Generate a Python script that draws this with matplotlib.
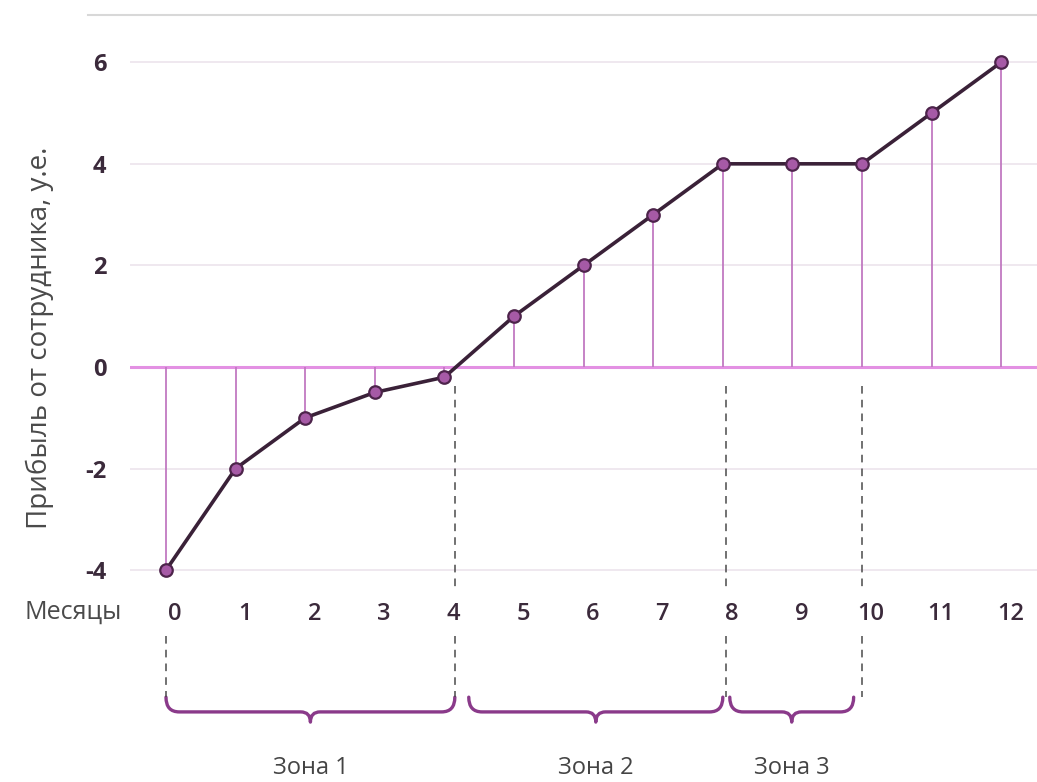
import numpy as np
import matplotlib
matplotlib.use('Agg')
import matplotlib.pyplot as plt
from matplotlib.path import Path
from matplotlib.patches import PathPatch
from matplotlib.lines import Line2D
from matplotlib.transforms import ScaledTranslation

plt.rcParams['font.family'] = ['Open Sans', 'DejaVu Sans']

# Data
months = list(range(13))
profit = [-4, -2, -1, -0.5, -0.2, 1, 2, 3, 4, 4, 4, 5, 6]
y_ticks = [-4, -2, 0, 2, 4, 6]
zone_bounds = [0, 4.15, 8.05, 10.0]
zone_names = ['Зона 1', 'Зона 2', 'Зона 3']

W, H = 1037, 782
fig = plt.figure(figsize=(W / 100, H / 100), dpi=100)
ax = fig.add_axes([130 / W, 1 - 590 / H, (W - 130) / W, (590 - 15) / H])
ax.set_xlim(-0.517, 12.514)
ax.set_ylim(-4.39, 6.93)

for s in ax.spines.values():
    s.set_visible(False)

# grid
for v in y_ticks:
    if v != 0:
        ax.axhline(v, color='#ece4ec', lw=1.2, zorder=0)
ax.axhline(0, color='#e391e3', lw=2.2, zorder=1)

# stems
ax.vlines(months, 0, profit, color='#c17ac1', lw=1.3, zorder=2)

# zone dashed lines
for xb in zone_bounds[1:]:
    ax.plot([xb, xb], [-0.38, -4.35], color='#4a4a4a', lw=1.1,
            dashes=(5, 4), zorder=2, clip_on=False)
for xb in zone_bounds:
    ax.plot([xb, xb], [-5.3, -6.5], color='#4a4a4a', lw=1.1,
            dashes=(5, 4), zorder=2, clip_on=False)

# main line
ax.plot(months, profit, color='#3a2138', lw=2.6, zorder=3,
        marker='o', markersize=9, markerfacecolor='#a65aa6',
        markeredgecolor='#4d244b', markeredgewidth=1.6)

# ticks
ax.set_yticks(y_ticks)
ax.set_yticklabels([str(v) for v in y_ticks], fontsize=17, fontweight='bold',
                   color='#3b2a3b')
ax.tick_params(axis='y', length=0, pad=17)
ax.set_xticks(months)
ax.set_xticklabels([str(m) for m in months], fontsize=17, fontweight='semibold',
                   color='#3b2a3b')
ax.tick_params(axis='x', length=0, pad=9)
off = ScaledTranslation(0.09, 0, fig.dpi_scale_trans)
for lab in ax.get_xticklabels():
    lab.set_transform(lab.get_transform() + off)

# braces
def brace(x0, x1, ytop=-6.50, ymid=-6.79, ytip=-6.99, r=0.19, r2=0.14):
    xm = (x0 + x1) / 2
    verts = [(x0, ytop), (x0, ymid), (x0 + r, ymid),
             (xm - r2, ymid), (xm, ymid), (xm, ytip),
             (xm, ymid), (xm + r2, ymid),
             (x1 - r, ymid), (x1, ymid), (x1, ytop)]
    codes = [Path.MOVETO, Path.CURVE3, Path.CURVE3,
             Path.LINETO, Path.CURVE3, Path.CURVE3,
             Path.CURVE3, Path.CURVE3,
             Path.LINETO, Path.CURVE3, Path.CURVE3]
    return PathPatch(Path(verts, codes), fill=False, edgecolor='#8a3a8a',
                     lw=2.4, clip_on=False, capstyle='round', joinstyle='round')

gaps = [(0.0, 0.0), (0.2, 0.05), (0.05, 0.12)]
for i, name in enumerate(zone_names):
    a, b = zone_bounds[i] + gaps[i][0], zone_bounds[i + 1] - gaps[i][1]
    ax.add_patch(brace(a, b))
    ax.text((a + b) / 2, -7.9, name, ha='center', va='center', fontsize=17,
            color='#444444', clip_on=False)

# labels
fig.text(122 / W, 1 - 612 / H, 'Месяцы', ha='right', va='center',
         fontsize=18, color='#4a4a4a')
fig.text(40 / W, 1 - 338 / H, 'Прибыль от сотрудника, у.е.', ha='center',
         va='center', rotation=90, fontsize=20, color='#4a4a4a')

fig.add_artist(Line2D([88 / W, 1], [1 - 15 / H, 1 - 15 / H],
                      color='#d8d8d8', lw=1.5))

fig.savefig('out.png', dpi=100)
